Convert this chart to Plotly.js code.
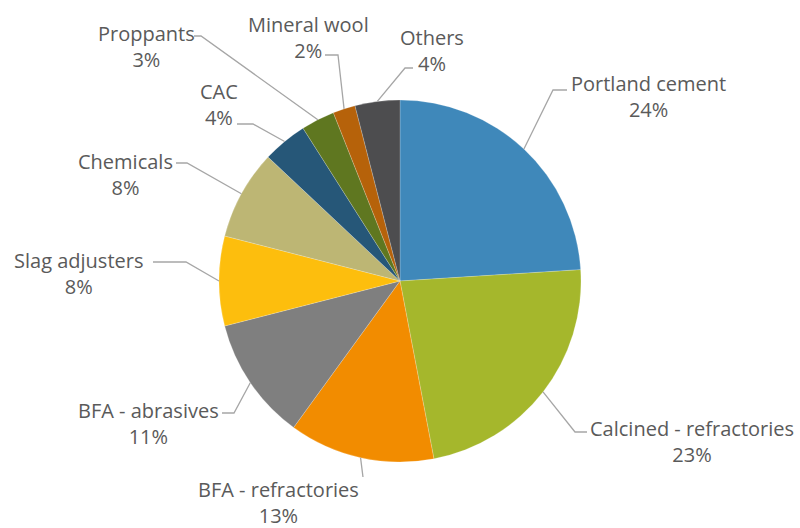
<!DOCTYPE html>
<html>
<head>
<meta charset="utf-8">
<script src="https://cdn.plot.ly/plotly-3.0.1.min.js"></script>
<style>html,body{margin:0;padding:0;background:#fff;}#chart{width:800px;height:528px;}</style>
</head>
<body>
<div id="chart"></div>
<script>
// Data
const categories = ["Portland cement","Calcined - refractories","BFA - refractories","BFA - abrasives","Slag adjusters","Chemicals","CAC","Proppants","Mineral wool","Others"];
const shares = [24, 23, 13, 11, 8, 8, 4, 3, 2, 4];
const colors = ["#3f88ba","#a5b72c","#f28c00","#7f7f7f","#fdbe0d","#bdb674","#265778","#5f7720","#b6620a","#4d4d4f"];

// Layout (pixel geometry)
const W = 800, H = 528;
const CX = 400, CY = 281, R = 181;
// label placement: [labelX, labelBlockCenterY, elbowX, elbowY, endX]
const labelPos = [
  [648, 96, 553, 90, 567],
  [692, 441, 575, 432, 587],
  [278, 502, 363, 477, 363],
  [148, 423, 234, 413, 222],
  [78, 273, 186, 262, 153],
  [125, 174, 187, 163, 176],
  [219, 104, 253, 124, 237],
  [146, 46, 201, 36, 194],
  [308, 37, 338, 55, 325],
  [432, 50, 405, 68, 413]
];

const px = x => x / W;
const py = y => 1 - y / H;

const total = shares.reduce((a, b) => a + b, 0);
const shapes = [];
const annotations = [];
let cum = 0;
const font = {family: "Open Sans, sans-serif", size: 20, color: "#5a5a5a"};
shares.forEach((v, i) => {
  const mid = (cum + v / 2) / total * 2 * Math.PI;
  cum += v;
  const ex = CX + R * Math.sin(mid);
  const ey = CY - R * Math.cos(mid);
  const p = labelPos[i];
  shapes.push({
    type: "path", xref: "paper", yref: "paper",
    path: `M ${px(ex)},${py(ey)} L ${px(p[2])},${py(p[3])} L ${px(p[4])},${py(p[3])}`,
    line: {color: "#a6a6a6", width: 1.3}
  });
  annotations.push({
    xref: "paper", yref: "paper", x: px(p[0]), y: py(p[1]),
    xanchor: "center", yanchor: "middle", showarrow: false, align: "center",
    borderpad: 0,
    text: categories[i] + "<br>" + Math.round(v / total * 100) + "%", font: font
  });
});

const trace = {
  type: "pie",
  labels: categories,
  values: shares,
  sort: false,
  direction: "clockwise",
  rotation: 0,
  textinfo: "none",
  hoverinfo: "label+percent",
  marker: {colors: colors, line: {color: "rgba(255,255,255,0.4)", width: 0.5}},
  domain: {x: [(CX - R) / W, (CX + R) / W], y: [1 - (CY + R) / H, 1 - (CY - R) / H]},
  showlegend: false
};

const layout = {
  width: W, height: H,
  margin: {l: 0, r: 0, t: 0, b: 0},
  paper_bgcolor: "#ffffff",
  showlegend: false,
  shapes: shapes,
  annotations: annotations
};

Plotly.newPlot("chart", [trace], layout, {displayModeBar: false, staticPlot: true});
</script>
</body>
</html>
